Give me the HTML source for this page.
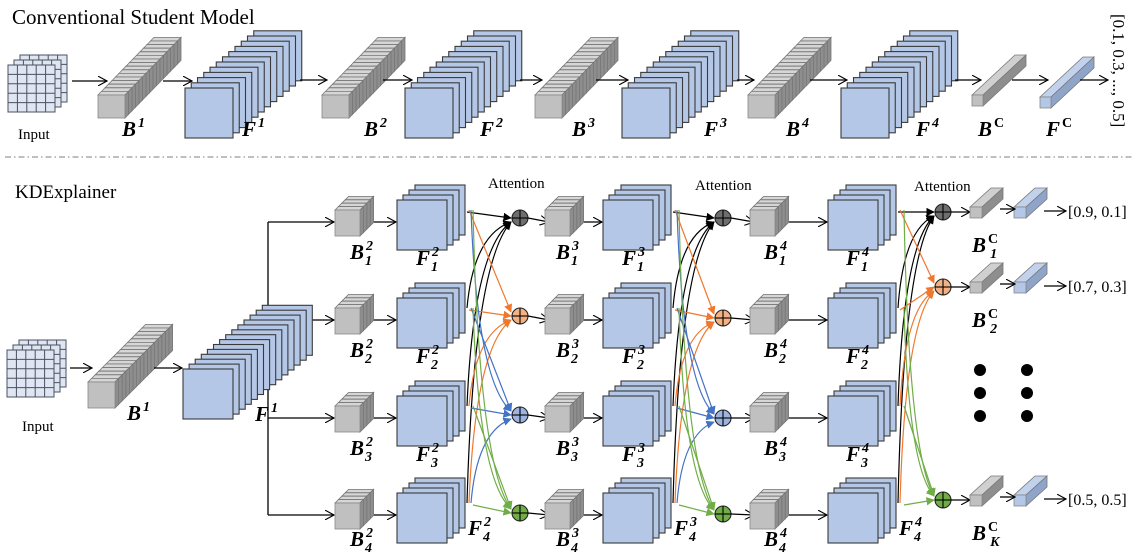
<!DOCTYPE html>
<html><head><meta charset="utf-8">
<style>
html,body{margin:0;padding:0;background:#fff;}
svg{display:block;}
text{font-family:"Liberation Serif",serif;}
.lb{font-weight:bold;font-style:italic;font-size:21px;}
</style></head>
<body>
<svg id="s" xmlns="http://www.w3.org/2000/svg" width="1140" height="558" viewBox="0 0 1140 558">
<defs>
<marker id="m0" viewBox="0 0 10 10" refX="9" refY="5" markerWidth="7" markerHeight="7" orient="auto"><path d="M0,0 L10,5 L0,10 z" fill="#000"/></marker>
<marker id="m1" viewBox="0 0 10 10" refX="9" refY="5" markerWidth="7" markerHeight="7" orient="auto"><path d="M0,0 L10,5 L0,10 z" fill="#f0782e"/></marker>
<marker id="m2" viewBox="0 0 10 10" refX="9" refY="5" markerWidth="7" markerHeight="7" orient="auto"><path d="M0,0 L10,5 L0,10 z" fill="#4472c4"/></marker>
<marker id="m3" viewBox="0 0 10 10" refX="9" refY="5" markerWidth="7" markerHeight="7" orient="auto"><path d="M0,0 L10,5 L0,10 z" fill="#70ad47"/></marker>
<marker id="ar" viewBox="0 0 12 12" refX="11" refY="6" markerWidth="10" markerHeight="10" orient="auto" markerUnits="userSpaceOnUse"><path d="M0,0 L11,6 L0,12" fill="none" stroke="#000" stroke-width="1.3"/></marker>
</defs>
<g id="g"></g>
</svg>
<script>
var g=document.getElementById('g'),out='';
function bar(x,y,w,h,n,sx,sy,f,t,sd){
 for(var i=n-1;i>=0;i--){var ox=x+i*sx,oy=y+i*sy;
  out+='<polygon points="'+ox+','+oy+' '+(ox+sx)+','+(oy+sy)+' '+(ox+w+sx)+','+(oy+sy)+' '+(ox+w)+','+oy+'" fill="'+t+'" stroke="#777" stroke-width="0.8"/>';
  out+='<polygon points="'+(ox+w)+','+oy+' '+(ox+w+sx)+','+(oy+sy)+' '+(ox+w+sx)+','+(oy+h+sy)+' '+(ox+w)+','+(oy+h)+'" fill="'+sd+'" stroke="#777" stroke-width="0.8"/>';
  out+='<rect x="'+ox+'" y="'+oy+'" width="'+w+'" height="'+h+'" fill="'+f+'" stroke="#888" stroke-width="0.8"/>';}
}
function gbar(x,y,w,h,n,sx,sy){bar(x,y,w,h,n,sx,sy,'#c0c0c0','#d6d6d6','#8e8e8e');}
function stack(x,y,w,h,n,sx,sy){for(var i=n-1;i>=0;i--)out+='<rect x="'+(x+i*sx)+'" y="'+(y+i*sy)+'" width="'+w+'" height="'+h+'" fill="#b4c7e7" stroke="#3a3a3a" stroke-width="1.1"/>';}
function grid(x,y){for(var k=2;k>=0;k--){var ox=x+k*6,oy=y-k*5;out+='<rect x="'+ox+'" y="'+oy+'" width="47" height="47" fill="#dfe6f2" stroke="#4a5060" stroke-width="1"/>';
 for(var c=1;c<5;c++){out+='<line x1="'+(ox+c*9.4)+'" y1="'+oy+'" x2="'+(ox+c*9.4)+'" y2="'+(oy+47)+'" stroke="#4a5060" stroke-width="1"/>';out+='<line x1="'+ox+'" y1="'+(oy+c*9.4)+'" x2="'+(ox+47)+'" y2="'+(oy+c*9.4)+'" stroke="#4a5060" stroke-width="1"/>';}}}
function arr(x1,y1,x2,y2){out+='<line x1="'+x1+'" y1="'+y1+'" x2="'+x2+'" y2="'+y2+'" stroke="#000" stroke-width="1.3" marker-end="url(#ar)"/>';}
function lab(x,y,b,sup,sub){out+='<text class="lb" x="'+x+'" y="'+y+'">'+b+'<tspan font-size="14" dx="2" dy="-9" font-style="'+(sup=='C'?'normal':'italic')+'">'+sup+'</tspan>'+(sub?'<tspan font-size="14" dx="-8" dy="15">'+sub+'</tspan>':'')+'</text>';}
function txt(x,y,s,sz,extra){out+='<text x="'+x+'" y="'+y+'" font-size="'+sz+'" '+(extra||'')+'>'+s+'</text>';}
function plus(x,y,f){out+='<circle cx="'+x+'" cy="'+y+'" r="8" fill="'+f+'" stroke="#222" stroke-width="1.1"/><line x1="'+(x-8)+'" y1="'+y+'" x2="'+(x+8)+'" y2="'+y+'" stroke="#000" stroke-width="1.1"/><line x1="'+x+'" y1="'+(y-8)+'" x2="'+x+'" y2="'+(y+8)+'" stroke="#000" stroke-width="1.1"/>';}

/* ===== top ===== */
txt(12,24,'Conventional Student Model',21);
out+='<line x1="5" y1="157" x2="1132" y2="157" stroke="#999" stroke-width="1.2" stroke-dasharray="6,3,1.5,3"/>';
grid(8,65);txt(18,139,'Input',15);
var tb=[98,322,535,748],tf=[185,405,622,841];
for(var i=0;i<4;i++){gbar(tb[i],95,27,23,16,3.5,-3.6);stack(tf[i],88,48,50,12,6.25,-5.2);}
bar(972,95,11,11,1,43,-40,'#c0c0c0','#d0d0d0','#8e8e8e');
bar(1040,97,11,11,1,43,-40,'#b4c7e7','#c2d2ec','#8ea4c8');
arr(72,81,107,81);arr(163,81,192,81);arr(300,80,327,80);arr(383,80,412,80);arr(520,80,542,80);arr(596,80,628,80);arr(737,80,754,80);arr(810,80,847,80);arr(955,80,981,80);arr(1012,80,1048,80);arr(1080,80,1108,80);
lab(122,136,'B','1');lab(242,136,'F','1');lab(364,136,'B','2');lab(480,136,'F','2');lab(572,136,'B','3');lab(704,136,'F','3');lab(786,136,'B','4');lab(916,136,'F','4');lab(978,136,'B','C');lab(1046,136,'F','C');
out+='<text x="1113" y="14" font-size="17" transform="rotate(90 1113 14)">[0.1, 0.3, ..., 0.5]</text>';

/* ===== bottom ===== */
txt(15,198,'KDExplainer',19);
var R=[222,320,418,515];
out+='<line x1="268" y1="222" x2="268" y2="515" stroke="#000" stroke-width="1.3"/>';
for(var i=0;i<4;i++)arr(268,R[i],334,R[i]);
grid(7,350);txt(22,431,'Input',15);
gbar(88,382,27,26,16,3.6,-3.6);
stack(183,369,50,50,14,6.1,-4.9);
arr(70,368,92,368);arr(154,368,182,368);
lab(127,420,'B','1');lab(255,421,'F','1');

var BX=[335,545,750],FX=[397,603,828],PX=[520,723,943];
var PY=[[218,316,415,513],[218,318,418,514],[212,287,null,500]];
var pc=['#6e6e6e','#f4b183','#9db4e0','#70ad47'];
var lc=['#000','#f0782e','#4472c4','#70ad47'];
for(var s=0;s<3;s++){
 for(var i=0;i<4;i++){var yc=R[i];
  arr(BX[s]+38,yc,FX[s]-1,yc);
  gbar(BX[s],yc-12,25,26,4,3.4,-3.4);
  stack(FX[s],yc-22,50,50,4,6,-5);
 }
 for(var j=0;j<4;j++){var py=PY[s][j];if(py==null)continue;
  for(var i=0;i<4;i++){var sx=FX[s]+70+j*2,sy=R[i]-12;
   var tx=PX[s]-9,ty=py+(i<j?-4:(i>j?4:0));var d;
   if(i==j){d='M'+sx+','+(R[i]-10)+' L'+tx+','+ty;}
   else if(j-i==1){d='M'+sx+','+sy+' L'+tx+','+ty;}
   else{var cx=sx+(tx-sx)*0.15, cy=sy+(ty-sy)*0.85; d='M'+sx+','+sy+' Q'+cx+','+cy+' '+tx+','+ty;}
   out+='<path d="'+d+'" fill="none" stroke="'+lc[j]+'" stroke-width="1.2" marker-end="url(#m'+j+')"/>';
  }
 }
 for(var j=0;j<4;j++){var py=PY[s][j];if(py==null)continue;plus(PX[s],py,pc[j]);}
 if(s<2){for(var j=0;j<4;j++)arr(PX[s]+8,PY[s][j],BX[s+1]+4,R[j]);}
}
txt(488,188,'Attention',15);txt(695,190,'Attention',15);txt(914,191,'Attention',15);
var fy=[212,287,500],subs=['1','2','K'],outs=['[0.9, 0.1]','[0.7, 0.3]','[0.5, 0.5]'];
for(var k=0;k<3;k++){var y=fy[k];
 arr(951,y,970,y);
 bar(970,y-5,12,11,1,21,-19,'#c0c0c0','#d0d0d0','#8e8e8e');
 bar(1014,y-5,12,11,1,21,-19,'#b4c7e7','#c2d2ec','#8ea4c8');
 arr(1000,y-3,1015,y-3);arr(1044,y-1,1066,y-1);
 txt(1068,y+5,outs[k],16);
 lab(972,y+40,'B','C',subs[k]);
}
[980,1027].forEach(function(x){[370,393,416].forEach(function(y){out+='<circle cx="'+x+'" cy="'+y+'" r="6" fill="#000"/>';});});
var BL=[350,556,764],FLx=[416,622,846];
for(var s=0;s<3;s++){var sup=String(s+2);
 for(var i=0;i<3;i++){lab(BL[s],R[i]+37,'B',sup,String(i+1));lab(FLx[s],R[i]+43,'F',sup,String(i+1));}
 lab(BL[s],R[3]+31,'B',sup,'4');
 lab(FX[s]+71,R[3]+20,'F',sup,'4');
}
g.innerHTML=out;
</script>
</body></html>
